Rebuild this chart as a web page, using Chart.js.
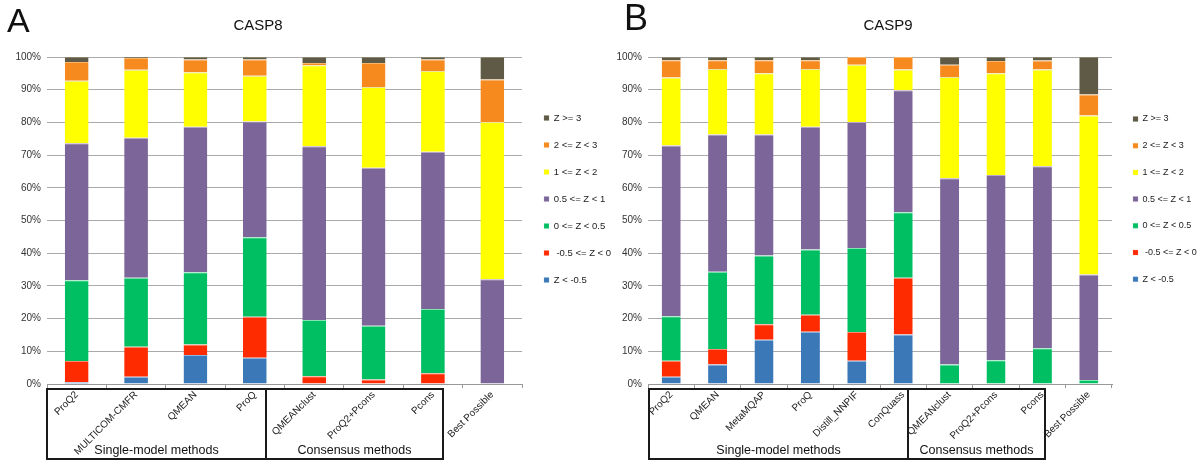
<!DOCTYPE html>
<html>
<head>
<meta charset="utf-8">
<script src="https://cdn.jsdelivr.net/npm/chart.js@4.4.1/dist/chart.umd.min.js"></script>
<style>
  body { margin: 0; width: 1200px; height: 461px; background: #fff; position: relative; overflow: hidden;
         font-family: "Liberation Sans", Arial, sans-serif; color: #111; }
  canvas, .txt, .box { position: absolute; }
  #chartA { left: 0; top: 0; }
  #chartB { left: 600px; top: 0; }
  .panel { font-size: 34px; line-height: 34px; }
  .title { font-size: 15px; line-height: 15px; width: 100px; text-align: center; }
  .box { border: 2px solid #1a1a1a; box-sizing: border-box; display: flex; align-items: flex-end;
         justify-content: center; font-size: 12.5px; padding-bottom: 1px; pointer-events: none; }
</style>
</head>
<body>
<canvas id="chartA" width="630" height="461"></canvas>
<canvas id="chartB" width="600" height="461"></canvas>

<div class="txt panel" style="left:7px; top:3px;">A</div>
<div class="txt panel" style="left:624px; top:1px; font-size:36px;">B</div>
<div class="txt title" style="left:208px; top:17px;">CASP8</div>
<div class="txt title" style="left:838px; top:17px;">CASP9</div>

<div class="box" style="left:46px; top:388px; width:221px; height:72px;">Single-model methods</div>
<div class="box" style="left:265px; top:388px; width:179px; height:72px;">Consensus methods</div>
<div class="box" style="left:648px; top:388px; width:261px; height:72px;">Single-model methods</div>
<div class="box" style="left:907px; top:388px; width:139px; height:72px;">Consensus methods</div>

<script>
// Z-score bands, bottom of the stack first
const bands = ['Z < -0.5', ' -0.5 <= Z < 0', '0 <= Z < 0.5', '0.5 <= Z < 1', '1 <= Z < 2', '2 <= Z < 3', 'Z >= 3'];

// CASP8 (% of targets)
const casp8Methods = ['ProQ2', 'MULTICOM-CMFR', 'QMEAN', 'ProQ', 'QMEANclust', 'ProQ2+Pcons', 'Pcons', 'Best Possible'];
const casp8ZltM05 = [0.5, 2.2, 8.9, 8.0, 0, 0, 0, 0];
const casp8ZM05to0 = [6.5, 9.2, 3.2, 12.6, 2.4, 1.4, 3.3, 0];
const casp8Z0to05 = [24.7, 21.1, 22.1, 24.3, 17.2, 16.4, 19.6, 0];
const casp8Z05to1 = [41.9, 42.8, 44.5, 35.4, 53.1, 48.3, 48.1, 32.0];
const casp8Z1to2 = [19.1, 20.8, 16.6, 14.0, 24.8, 24.7, 24.7, 48.1];
const casp8Z2to3 = [5.8, 3.6, 3.9, 4.9, 0.7, 7.4, 3.5, 13.0];
const casp8Zge3 = [1.5, 0.3, 0.8, 0.8, 1.8, 1.8, 0.8, 6.9];

// CASP9 (% of targets)
const casp9Methods = ['ProQ2', 'QMEAN', 'MetaMQAP', 'ProQ', 'Distill_NNPIF', 'ConQuass', 'QMEANclust', 'ProQ2+Pcons', 'Pcons', 'Best Possible'];
const casp9ZltM05 = [2.2, 6.0, 13.5, 16.0, 7.1, 15.1, 0, 0, 0, 0];
const casp9ZM05to0 = [4.9, 4.7, 4.8, 5.2, 8.8, 17.4, 0, 0, 0, 0];
const casp9Z0to05 = [13.6, 23.6, 21.0, 19.9, 25.7, 20.0, 6.0, 7.3, 10.9, 1.2];
const casp9Z05to1 = [52.2, 42.0, 37.0, 37.6, 38.5, 37.3, 56.9, 56.6, 55.7, 32.3];
const casp9Z1to2 = [20.8, 20.0, 18.7, 17.6, 17.5, 6.4, 31.0, 31.1, 29.6, 48.6];
const casp9Z2to3 = [5.3, 2.7, 4.0, 2.7, 2.4, 3.8, 3.7, 3.8, 2.7, 6.4];
const casp9Zge3 = [1.0, 1.0, 1.0, 1.0, 0, 0, 2.4, 1.2, 1.1, 11.5];

const fills = ['#3b78b8', '#fe2a00', '#00bf63', '#7c6599', '#ffff00', '#f68a1e', '#5e5a45'];
const edges = ['#8cb8e8', '#ff8a70', '#80e6b0', '#b3a5cc', '#e8e6a0', '#fbb56a', '#8a8570'];

const font = { family: '"Liberation Sans", Arial, sans-serif', size: 10 };

// puts the legend where the original had it (and widens its clip box to the canvas edge)
const legendSpot = {
  id: 'legendSpot',
  afterLayout(chart, args, opts) {
    const lg = chart.legend;
    if (!lg) return;
    const pad = lg.options.labels.padding;
    lg.left = opts.x - pad;
    lg.top = opts.y - lg.options.labels.font.size / 2 - pad;
    lg.right = chart.width;
  }
};

function makeChart(id, labels, series, barPct, axisW, padRight, legendW, legendX, legendY, legendSize, legendPad) {
  new Chart(document.getElementById(id), {
    type: 'bar',
    data: {
      labels,
      datasets: series.map((data, i) => ({
        label: bands[i],
        data,
        backgroundColor: fills[i],
        borderColor: edges[i],
        borderWidth: { top: 1, left: 0, right: 0, bottom: 0 },
        borderSkipped: false,
        barPercentage: barPct,
        categoryPercentage: 1
      }))
    },
    plugins: [legendSpot],
    options: {
      responsive: false,
      animation: false,
      layout: { padding: { left: 0, top: 57, right: padRight, bottom: 0 } },
      scales: {
        x: {
          stacked: true,
          grid: { drawOnChartArea: false, drawTicks: true, tickLength: 4, color: '#999', offset: true },
          border: { display: true, color: '#999' },
          ticks: { autoSkip: false, minRotation: 45, maxRotation: 45, padding: 1, color: '#222', font },
          afterFit: s => { s.height = 77; }
        },
        y: {
          stacked: true,
          min: 0,
          max: 100,
          grid: { color: '#aaa', drawTicks: false },
          border: { display: false },
          ticks: { stepSize: 10, padding: 6, color: '#333', font, callback: v => v + '%' },
          afterFit: s => { s.width = axisW; }
        }
      },
      plugins: {
        legend: {
          position: 'right',
          align: 'start',
          reverse: true,
          maxWidth: legendW,
          labels: { boxWidth: 5, boxHeight: 5, padding: legendPad, color: '#222',
                    font: { family: font.family, size: legendSize } }
        },
        legendSpot: { x: legendX, y: legendY },
        tooltip: { enabled: false }
      }
    }
  });
}

makeChart('chartA', casp8Methods,
  [casp8ZltM05, casp8ZM05to0, casp8Z0to05, casp8Z05to1, casp8Z1to2, casp8Z2to3, casp8Zge3],
  0.4, 47, 18, 90, 544, 118, 9.5, 17.5);

makeChart('chartB', casp9Methods,
  [casp9ZltM05, casp9ZM05to0, casp9Z0to05, casp9Z05to1, casp9Z1to2, casp9Z2to3, casp9Zge3],
  0.41, 48, 8, 80, 533, 119, 9, 17.7);
</script>
</body>
</html>
